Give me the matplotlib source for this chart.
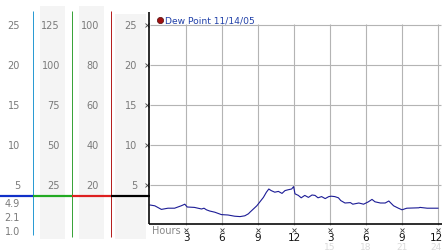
import matplotlib
matplotlib.use("Agg")
import matplotlib.pyplot as plt
from matplotlib.lines import Line2D
from matplotlib.patches import Rectangle

W, H = 442, 253

# ---- data ----
hours = [0.0, 0.4, 0.95, 1.5, 2.05, 2.6, 2.9, 3.1, 3.7, 4.3, 4.5, 4.7, 4.97, 5.4, 5.95,
         6.5, 7.05, 7.5, 7.9, 8.2, 8.33, 8.9, 9.45, 9.7, 9.9, 10.1, 10.4, 10.7, 11.0,
         11.25, 11.5, 11.8, 11.97, 12.08, 12.36, 12.6, 12.9, 13.2, 13.5, 13.75, 14.0,
         14.3, 14.6, 14.9, 15.1, 15.4, 15.7, 15.9, 16.25, 16.7, 16.9, 17.4, 17.8, 18.2,
         18.5, 18.75, 19.2, 19.6, 19.9, 20.3, 20.7, 21.0, 21.4, 22.4, 22.5, 23.1, 24.0]
dew_point = [2.5, 2.4, 1.95, 2.1, 2.1, 2.4, 2.6, 2.25, 2.2, 2.0, 2.1, 1.9, 1.75, 1.6, 1.3,
             1.25, 1.1, 1.05, 1.15, 1.4, 1.6, 2.4, 3.45, 4.1, 4.5, 4.3, 4.1, 4.2, 3.95,
             4.3, 4.4, 4.5, 4.8, 3.9, 3.7, 3.4, 3.7, 3.45, 3.75, 3.7, 3.4,
             3.55, 3.3, 3.55, 3.6, 3.55, 3.4, 3.05, 2.75, 2.8, 2.6, 2.75, 2.6, 2.9,
             3.2, 2.9, 2.75, 2.75, 3.0, 2.4, 2.1, 1.9, 2.1, 2.15, 2.2, 2.1, 2.1]

y_levels = [5, 10, 15, 20, 25]
x_ticks = [3, 6, 9, 12, 15, 18, 21, 24]
x_labels = ["3", "6", "9", "12", "3", "6", "9", "12"]
x_labels2 = ["15", "18", "21", "24"]
scale_a = ["25", "20", "15", "10", "5"]
scale_b = ["125", "100", "75", "50", "25"]
scale_c = ["100", "80", "60", "40", "20"]
scale_d = ["25", "20", "15", "10", "5"]
low_labels = ["4.9", "2.1", "1.0"]
title = "Dew Point 11/14/05"

fig = plt.figure(figsize=(W / 100, H / 100), dpi=100)
fig.patch.set_facecolor("white")

def fx(x):
    return x / W

def fy(y):
    return 1 - y / H

def fline(x0, y0, x1, y1, color, lw=1.0):
    fig.add_artist(Line2D([fx(x0), fx(x1)], [fy(y0), fy(y1)], color=color,
                          lw=lw * 0.72, transform=fig.transFigure, solid_capstyle="butt"))

def frect(x0, y0, x1, y1, color):
    fig.add_artist(Rectangle((fx(x0), fy(y1)), fx(x1) - fx(x0), fy(y0) - fy(y1),
                             transform=fig.transFigure, color=color, lw=0, zorder=0))

# ---- left scale panels ----
frect(40, 7, 65, 240, "#f4f4f4")
frect(79, 7, 104, 240, "#f4f4f4")
frect(115, 15, 146, 240, "#f4f4f4")

fline(33, 12, 33, 236, "#2b9bd3")
fline(72, 12, 72, 238, "#3aa33a")
fline(111, 12, 111, 238, "#b52020")

fline(0, 197, 33, 197, "#1030c8", 2.2)
fline(33, 197, 72, 197, "#22aa22", 2.2)
fline(72, 197, 111, 197, "#dd2020", 2.2)
fline(111, 197, 150, 197, "#000000", 2.2)

grey = "#7a7a7a"
for i, lv in enumerate(y_levels[::-1]):
    yp = 226 - 8 * lv
    fig.text(fx(20), fy(yp), scale_a[i], ha="right", va="center", fontsize=7, color=grey)
    fig.text(fx(60), fy(yp), scale_b[i], ha="right", va="center", fontsize=7, color=grey)
    fig.text(fx(99), fy(yp), scale_c[i], ha="right", va="center", fontsize=7, color=grey)
    fig.text(fx(137), fy(yp), scale_d[i], ha="right", va="center", fontsize=7, color=grey)

for lab, yp in zip(low_labels, [204, 218, 232]):
    fig.text(fx(20), fy(yp), lab, ha="right", va="center", fontsize=7, color=grey)

# ---- main axes ----
ax = fig.add_axes([fx(150), fy(226), fx(438) - fx(150), 216 / H])
ax.set_xlim(0, 24)
ax.set_ylim(0, 27)
ax.axis("off")

for lv in y_levels:
    ax.hlines(lv, 0, 24.25, color="#b4b4b4", lw=0.8, clip_on=False, zorder=1)
for xt in x_ticks:
    ax.vlines(xt, 0, 25.1, color="#b4b4b4", lw=0.8, clip_on=False, zorder=1)

ax.plot(hours, dew_point, color="#1c1c96", lw=0.8, zorder=3, clip_on=False)

# axes lines
fline(149, 13, 149, 225, "#000000", 1.6)
fline(148.5, 225, 442, 225, "#000000", 1.6)

# tick markers
ax.plot([-0.25] * len(y_levels), y_levels, ls="none", marker="x", ms=2.2,
        mew=0.6, color="#444444", clip_on=False)
ax.plot(x_ticks, [-0.6] * len(x_ticks), ls="none", marker="x", ms=2.2,
        mew=0.6, color="#444444", clip_on=False)

for xt, lab in zip(x_ticks, x_labels):
    xpos = xt - 0.15 if xt == x_ticks[-1] else xt
    ax.text(xpos, -0.9, lab, ha="center", va="top", fontsize=7.5, color="#111111",
            clip_on=False)
for xt, lab in zip(x_ticks[4:], x_labels2):
    xpos = xt - 0.15 if xt == x_ticks[-1] else xt
    ax.text(xpos, -2.65, lab, ha="center", va="center", fontsize=6.5, color="#dadada",
            clip_on=False)

fig.text(fx(152), fy(231.5), "Hours", ha="left", va="center", fontsize=7, color="#888888")

# title with dot
fig.add_artist(Line2D([fx(160)], [fy(20.5)], marker="o", ms=4.5, ls="none",
                      markerfacecolor="#a01010", markeredgecolor="#501010", mew=0.5,
                      transform=fig.transFigure))
fig.text(fx(165), fy(20.5), title, ha="left", va="center", fontsize=6.6, color="#2040a8")

fig.savefig("out.png", dpi=100, facecolor="white")
